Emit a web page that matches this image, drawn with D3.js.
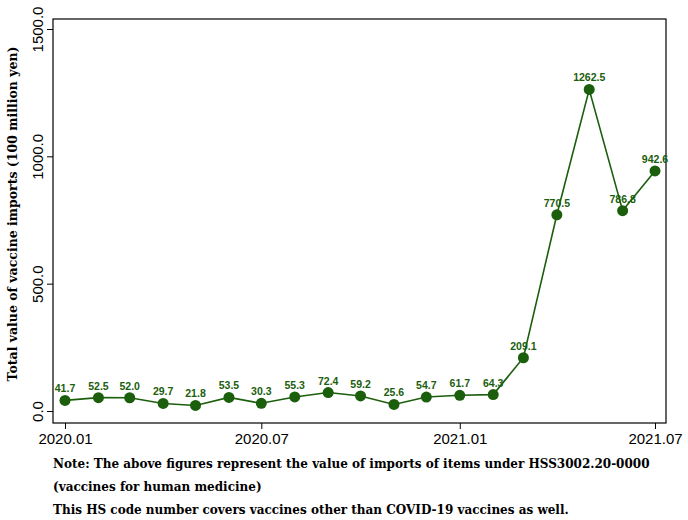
<!DOCTYPE html>
<html>
<head>
<meta charset="utf-8">
<script src="https://cdn.jsdelivr.net/npm/d3@7"></script>
<style>
  body { margin: 0; background: #fff; }
  svg { display: block; }
</style>
</head>
<body>
<svg id="chart" width="688" height="520"></svg>
<script>
// Monthly import values (100 million yen), 2020.01 - 2021.07
var months = ["2020-01","2020-02","2020-03","2020-04","2020-05","2020-06","2020-07",
              "2020-08","2020-09","2020-10","2020-11","2020-12","2021-01","2021-02",
              "2021-03","2021-04","2021-05","2021-06","2021-07"];
var values = [41.7, 52.5, 52.0, 29.7, 21.8, 53.5, 30.3, 55.3, 72.4, 59.2, 25.6, 54.7,
              61.7, 64.3, 209.1, 770.5, 1262.5, 786.8, 942.6];
var yTicks = [0, 500, 1000, 1500];
var xTicks = ["2020-01", "2020-07", "2021-01", "2021-07"];
var noteLines = [
    "Note: The above figures represent the value of imports of items under HSS3002.20-0000",
    "(vaccines for human medicine)",
    "This HS code number covers vaccines other than COVID-19 vaccines as well."
];

var parseMonth = d3.timeParse("%Y-%m");
var data = months.map(function (m, i) { return { date: parseMonth(m), value: values[i] }; });

var margin = { top: 19, right: 22, bottom: 97, left: 53 };
var svg = d3.select("#chart");
var width = 688 - margin.left - margin.right;
var height = 520 - margin.top - margin.bottom;
var green = "#1b5e0c";

var g = svg.append("g").attr("transform", "translate(" + margin.left + "," + margin.top + ")");

var x = d3.scaleTime()
    .domain([parseMonth("2020-01"), parseMonth("2021-07")])
    .range([12, 602]);
var y = d3.scaleLinear().domain([0, 1500]).range([392, 10]);

// frame
g.append("rect")
    .attr("width", width).attr("height", height)
    .attr("fill", "none").attr("stroke", "#000").attr("stroke-width", 1.2);

// y axis
var yAxis = g.append("g")
    .call(d3.axisLeft(y).tickValues(yTicks).tickSize(6).tickFormat(d3.format(".1f")));
yAxis.select(".domain").remove();
yAxis.selectAll("line").attr("stroke", "#000");
yAxis.selectAll("text")
    .attr("transform", "rotate(-90)")
    .attr("x", 0).attr("y", -10).attr("dy", 0)
    .attr("text-anchor", "middle")
    .style("font-family", "Liberation Sans, Arial, sans-serif")
    .style("font-size", "15px").attr("fill", "#000");

// x axis
var xAxis = g.append("g").attr("transform", "translate(0," + height + ")")
    .call(d3.axisBottom(x).tickValues(xTicks.map(parseMonth)).tickSize(6)
        .tickFormat(d3.timeFormat("%Y.%m")));
xAxis.select(".domain").remove();
xAxis.selectAll("line").attr("stroke", "#000");
xAxis.selectAll("text")
    .attr("y", 9).attr("dy", "0.8em")
    .style("font-family", "Liberation Sans, Arial, sans-serif")
    .style("font-size", "15px").attr("fill", "#000");

// y title
svg.append("text")
    .attr("transform", "translate(17,214) rotate(-90)")
    .attr("text-anchor", "middle")
    .style("font-family", "DejaVu Serif, serif")
    .style("font-weight", "bold").style("font-size", "12.5px")
    .text("Total value of vaccine imports (100 million yen)");

// line + points
var line = d3.line()
    .x(function (d) { return x(d.date); })
    .y(function (d) { return y(d.value); });

g.append("path").datum(data)
    .attr("fill", "none").attr("stroke", green).attr("stroke-width", 1.6)
    .attr("d", line);

g.selectAll(".dot").data(data).enter().append("circle")
    .attr("class", "dot")
    .attr("cx", function (d) { return x(d.date); })
    .attr("cy", function (d) { return y(d.value); })
    .attr("r", 5.5).attr("fill", green);

g.selectAll(".lbl").data(data).enter().append("text")
    .attr("class", "lbl")
    .attr("x", function (d) { return x(d.date); })
    .attr("y", function (d) { return y(d.value) - 8; })
    .attr("text-anchor", "middle")
    .style("font-family", "Liberation Sans, Arial, sans-serif")
    .style("font-weight", "bold").style("font-size", "10.5px")
    .attr("fill", green)
    .text(function (d) { return d.value.toFixed(1); });

// notes
svg.selectAll(".note").data(noteLines).enter().append("text")
    .attr("class", "note")
    .attr("x", 53)
    .attr("y", function (d, i) { return 468 + i * 23; })
    .style("font-family", "DejaVu Serif, serif")
    .style("font-weight", "bold").style("font-size", "12px")
    .text(function (d) { return d; });
</script>
</body>
</html>
